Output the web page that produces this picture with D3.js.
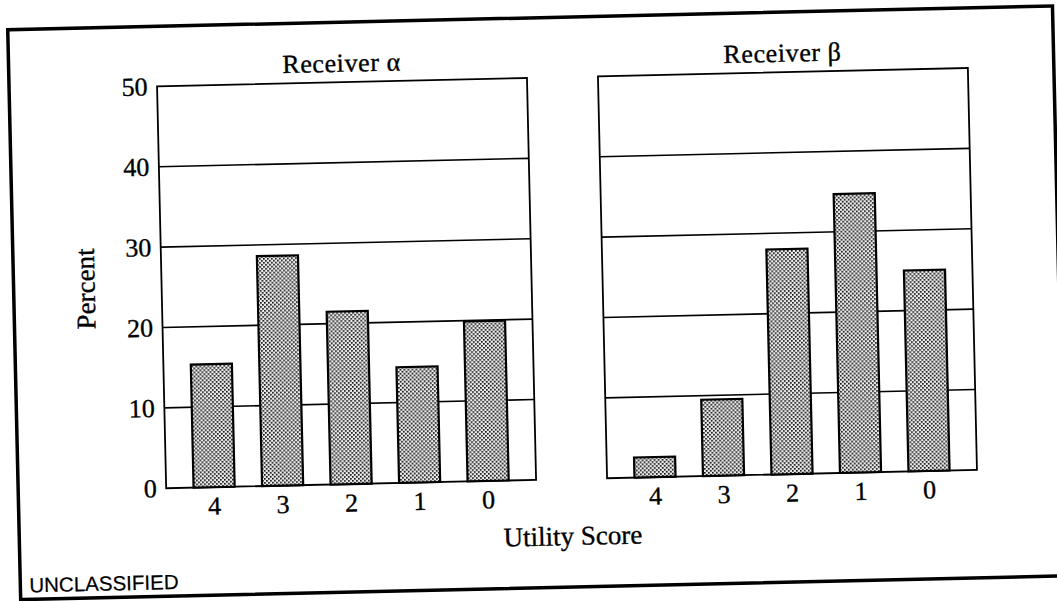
<!DOCTYPE html>
<html>
<head>
<meta charset="utf-8">
<script src="https://cdn.jsdelivr.net/npm/d3@7"></script>
<style>
  html, body { margin: 0; padding: 0; background: #fff; }
  svg { display: block; }
</style>
</head>
<body>
<script>
// ---- data ----
const categories = ["4", "3", "2", "1", "0"];
const receiverAlpha = [15.3, 28.6, 21.5, 14.4, 19.9];
const receiverBeta = [2.5, 9.5, 28.0, 34.7, 25.0];
const yTicks = [0, 10, 20, 30, 40, 50];
const panelTitles = ["Receiver α", "Receiver β"];
const xAxisTitle = "Utility Score";
const yAxisTitle = "Percent";
const footerText = "UNCLASSIFIED";

// ---- layout ----
const W = 1057, H = 601;
const serif = "'Liberation Serif', 'Times New Roman', serif";
const sans = "'Liberation Sans', Arial, sans-serif";
const plotTop = 78, plotBottom = 480, plotW = 370;
const panelX = [162, 603];
const textStroke = 0.35;

const svg = d3.select("body").append("svg").attr("width", W).attr("height", H);
svg.append("rect").attr("width", W).attr("height", H).attr("fill", "#fff");

const defs = svg.append("defs");
const pat = defs.append("pattern").attr("id", "dots")
  .attr("patternUnits", "userSpaceOnUse").attr("width", 4).attr("height", 4);
pat.append("rect").attr("width", 4).attr("height", 4).attr("fill", "#eeeeee");
pat.append("rect").attr("x", 0).attr("y", 0).attr("width", 1.7).attr("height", 1.7).attr("fill", "#111");
pat.append("rect").attr("x", 2).attr("y", 2).attr("width", 1.7).attr("height", 1.7).attr("fill", "#111");

// whole sheet slightly rotated, as in the scanned original
const g = svg.append("g").attr("transform", "rotate(-1.3,528,300)");

// outer frame
g.append("rect").attr("x", 14).attr("y", 18).attr("width", 1045).attr("height", 570)
  .attr("fill", "none").attr("stroke", "#000").attr("stroke-width", 3.5);

const y = d3.scaleLinear().domain([0, 50]).range([plotBottom, plotTop]);

const panels = [
  { title: panelTitles[0], values: receiverAlpha, x0: panelX[0], showY: true },
  { title: panelTitles[1], values: receiverBeta, x0: panelX[1], showY: false }
];

function styleText(sel, size) {
  return sel.attr("font-family", serif).attr("font-size", size).attr("fill", "#000")
    .attr("stroke", "#000").attr("stroke-width", textStroke);
}

panels.forEach(p => {
  const x = d3.scaleBand().domain(categories)
    .range([p.x0, p.x0 + plotW]).paddingInner(0.4).paddingOuter(0.4);
  const pg = g.append("g");

  // gridlines
  pg.selectAll("line.grid").data(yTicks.filter(t => t > 0 && t < 50)).join("line")
    .attr("x1", p.x0).attr("x2", p.x0 + plotW)
    .attr("y1", d => y(d)).attr("y2", d => y(d))
    .attr("stroke", "#000").attr("stroke-width", 1.6);

  // frame
  pg.append("rect").attr("x", p.x0).attr("y", plotTop)
    .attr("width", plotW).attr("height", plotBottom - plotTop)
    .attr("fill", "none").attr("stroke", "#000").attr("stroke-width", 1.8);

  // bars
  pg.selectAll("rect.bar").data(p.values).join("rect")
    .attr("class", "bar")
    .attr("x", (d, i) => x(categories[i]))
    .attr("y", d => y(d))
    .attr("width", x.bandwidth())
    .attr("height", d => y(0) - y(d))
    .attr("fill", "url(#dots)")
    .attr("stroke", "#000").attr("stroke-width", 2.2);

  // x axis labels
  const xa = pg.append("g").attr("transform", `translate(0,${plotBottom})`)
    .call(d3.axisBottom(x).tickSize(0).tickPadding(9));
  xa.select(".domain").remove();
  styleText(xa.selectAll("text"), 26);

  // y axis labels
  if (p.showY) {
    const ya = pg.append("g").attr("transform", `translate(${p.x0},0)`)
      .call(d3.axisLeft(y).tickValues(yTicks).tickSize(0).tickPadding(9.5));
    ya.select(".domain").remove();
    styleText(ya.selectAll("text"), 26);
  }

  // panel title
  styleText(pg.append("text").attr("x", p.x0 + plotW / 2).attr("y", 67.6)
    .attr("text-anchor", "middle").attr("letter-spacing", 0.6), 26)
    .text(p.title);
});

// axis titles
styleText(g.append("text").attr("transform", "translate(95,279) rotate(-90)")
  .attr("text-anchor", "middle"), 27).text(yAxisTitle);

styleText(g.append("text").attr("x", 567.5).attr("y", 546)
  .attr("text-anchor", "middle"), 27).text(xAxisTitle);

g.append("text").attr("x", 23).attr("y", 581)
  .attr("font-family", sans).attr("font-size", 20.5).attr("fill", "#000")
  .attr("stroke", "#000").attr("stroke-width", 0.2).text(footerText);
</script>
</body>
</html>
